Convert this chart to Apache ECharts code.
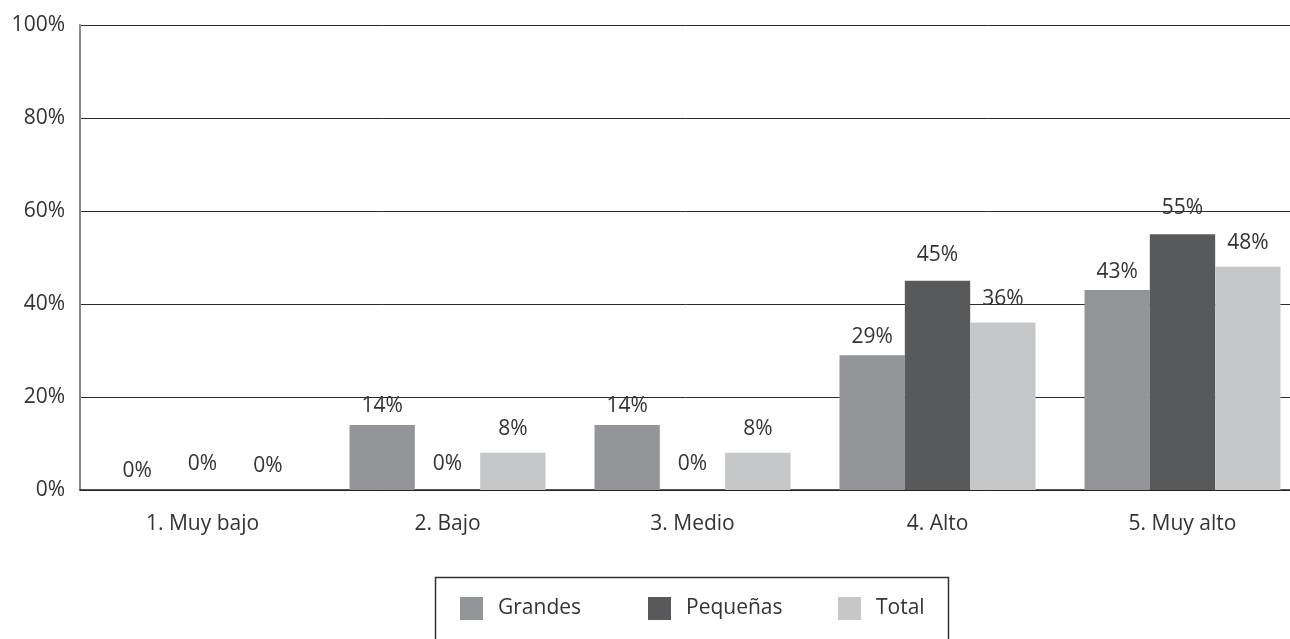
<!DOCTYPE html>
<html>
<head>
<meta charset="utf-8">
<script src="https://cdn.jsdelivr.net/npm/echarts@6/dist/echarts.min.js"></script>
<style>
  html, body { margin: 0; padding: 0; background: #fff; }
  #chart { width: 1290px; height: 639px; }
</style>
</head>
<body>
<div id="chart"></div>
<script>
// Nivel de respuesta por tamaño de empresa (%)
const categories = ['1. Muy bajo', '2. Bajo', '3. Medio', '4. Alto', '5. Muy alto'];
const seriesNames = ['Grandes', 'Pequeñas', 'Total'];
const grandes   = [0, 14, 14, 29, 43];
const pequenas  = [0, 0, 0, 45, 55];
const total     = [0, 8, 8, 36, 48];
const yTicks    = [0, 20, 40, 60, 80, 100];

const FONT = '"Open Sans", "Noto Sans", sans-serif';
const TEXT = '#333333';
const COLORS = ['#939598', '#58595b', '#c6c7c9'];

function barSeries(name, data, color, labelDist) {
  return {
    name: name,
    type: 'bar',
    data: data,
    barGap: '0%',
    barCategoryGap: '20%',
    itemStyle: { color: color },
    label: {
      show: true,
      position: 'top',
      distance: labelDist,
      formatter: p => p.value + '%',
      fontFamily: FONT,
      fontSize: 21,
      lineHeight: 22,
      color: TEXT
    }
  };
}

// one legend block per series, laid out in evenly spaced columns
function legendItem(name, left) {
  return {
    left: left,
    top: 597,
    padding: 0,
    icon: 'rect',
    itemWidth: 23,
    itemHeight: 23,
    textStyle: { fontFamily: FONT, fontSize: 21, color: TEXT, padding: [0, 0, 0, 10] },
    data: [name]
  };
}

const chart = echarts.init(document.getElementById('chart'), null, { renderer: 'canvas' });
chart.setOption({
  backgroundColor: '#ffffff',
  animation: false,
  // the plot runs a little past the right edge of the canvas
  grid: { left: 80, width: 1225, top: 25, bottom: 149, containLabel: false, outerBoundsMode: 'none' },
  xAxis: {
    type: 'category',
    data: categories,
    axisLine: { show: true, lineStyle: { color: '#222', width: 1.5 } },
    axisTick: { show: false },
    axisLabel: { fontFamily: FONT, fontSize: 21, color: TEXT, margin: 23, lineHeight: 22 }
  },
  yAxis: {
    type: 'value',
    min: yTicks[0],
    max: yTicks[yTicks.length - 1],
    interval: yTicks[1] - yTicks[0],
    axisLine: { show: true, lineStyle: { color: '#8a8a8a', width: 2 } },
    axisTick: { show: false },
    axisLabel: { fontFamily: FONT, fontSize: 21, color: TEXT, margin: 15, formatter: v => v + '%' },
    splitLine: { show: true, lineStyle: { color: '#2b2b2b', width: 1 } }
  },
  legend: [
    legendItem(seriesNames[0], 460),
    legendItem(seriesNames[1], 648),
    legendItem(seriesNames[2], 838)
  ],
  graphic: [{
    type: 'rect',
    left: 433,
    top: 575,
    shape: { width: 513, height: 100 },
    style: { fill: 'none', stroke: '#333', lineWidth: 1.5 },
    silent: true
  }],
  series: [
    barSeries(seriesNames[0], grandes, COLORS[0], 7.5),
    barSeries(seriesNames[1], pequenas, COLORS[1], 15),
    barSeries(seriesNames[2], total, COLORS[2], 13)
  ]
});
</script>
</body>
</html>
